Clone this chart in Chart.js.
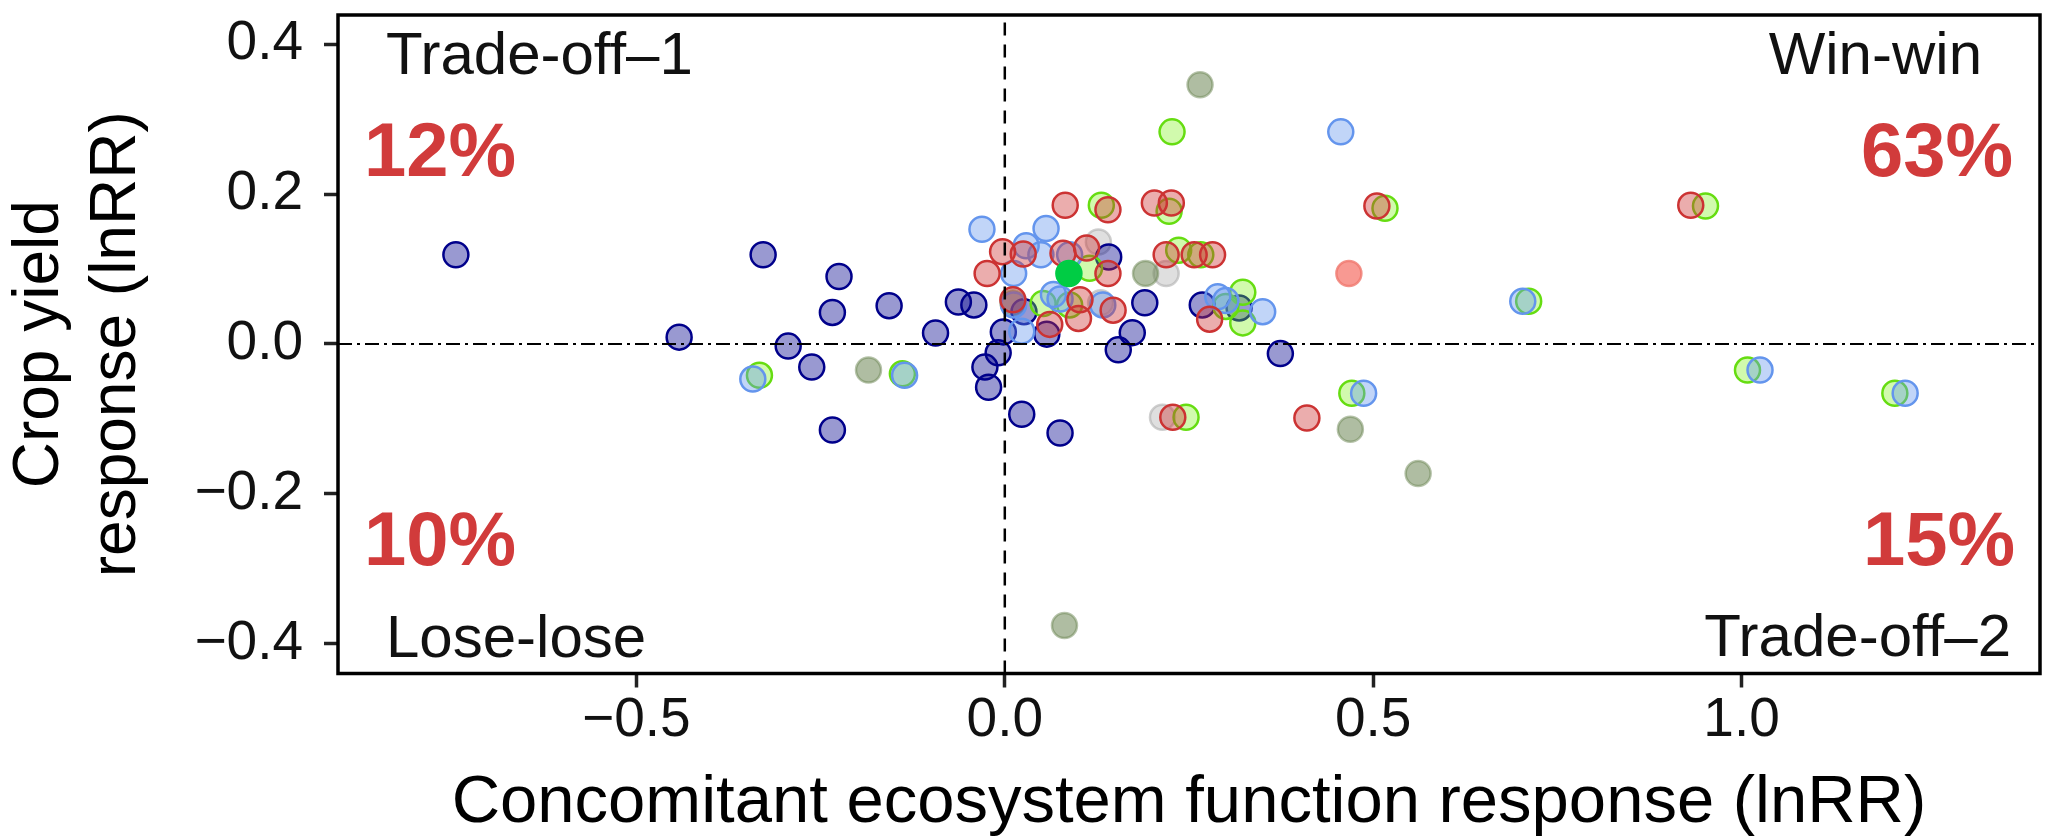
<!DOCTYPE html>
<html>
<head>
<meta charset="utf-8">
<script src="https://cdn.jsdelivr.net/npm/chart.js@4/dist/chart.umd.min.js"></script>
<style>
  body { margin: 0; background: #fff; }
  canvas { display: block; }
</style>
</head>
<body>
<canvas id="chart" width="2055" height="838"></canvas>
<script>
// axis ticks
const xTicks = [-0.5, 0, 0.5, 1.0];
const xTickLabels = ['\u22120.5', '0.0', '0.5', '1.0'];
const yTicks = [-0.4, -0.2, 0, 0.2, 0.4];
const yTickLabels = ['\u22120.4', '\u22120.2', '0.0', '0.2', '0.4'];

// points, one pair of arrays per colour group
const navyX = [-0.745, -0.328, -0.225, -0.442, -0.294, -0.262, -0.234, -0.234, -0.157, -0.094, -0.063, -0.042, -0.002, -0.009, -0.027, -0.022, 0.023, 0.075, 0.026, 0.057, 0.141, 0.19, 0.173, 0.154, 0.268, 0.318, 0.374];
const navyY = [0.119, 0.119, 0.090, 0.009, -0.003, -0.031, -0.115, 0.042, 0.051, 0.0145, 0.056, 0.052, 0.016, -0.012, -0.031, -0.058, -0.094, -0.119, 0.043, 0.013, 0.116, 0.055, 0.015, -0.008, 0.052, 0.048, -0.013];

const blueX = [-0.031, 0.056, 0.029, 0.049, 0.012, 0.088, 0.012, 0.023, 0.066, 0.075, 0.133, 0.289, 0.35, 0.30, 0.456, 0.703, 0.487, 1.025, 1.222, -0.342, -0.136];
const blueY = [0.153, 0.154, 0.131, 0.119, 0.094, 0.119, 0.052, 0.017, 0.066, 0.060, 0.052, 0.063, 0.043, 0.058, 0.283, 0.057, -0.066, -0.035, -0.066, -0.047, -0.042];

const redX = [0.082, 0.14, 0.203, 0.226, -0.003, -0.024, 0.079, 0.111, 0.14, 0.011, 0.102, 0.100, 0.061, 0.147, 0.219, 0.257, 0.282, 0.278, 0.228, 0.41, 0.505, 0.931, 0.025];
const redY = [0.185, 0.179, 0.188, 0.188, 0.123, 0.094, 0.121, 0.128, 0.094, 0.059, 0.059, 0.034, 0.026, 0.045, 0.119, 0.119, 0.119, 0.033, -0.098, -0.099, 0.184, 0.185, 0.120];

const greenX = [0.131, 0.223, 0.236, 0.266, 0.115, 0.052, 0.088, 0.323, 0.323, 0.30, 0.246, 0.227, 0.516, 0.951, 0.711, 0.471, 1.008, 1.208, -0.333, -0.139];
const greenY = [0.185, 0.177, 0.125, 0.119, 0.101, 0.054, 0.052, 0.069, 0.028, 0.050, -0.098, 0.283, 0.181, 0.184, 0.057, -0.066, -0.035, -0.066, -0.042, -0.040];

const oliveX = [0.265, 0.191, 0.469, 0.561, 0.081, -0.185, 0.011];
const oliveY = [0.346, 0.094, -0.114, -0.173, -0.376, -0.035, 0.055];

const greyX = [0.127, 0.219, 0.214, 0.13];
const greyY = [0.136, 0.094, -0.098, 0.055];

const brightX = [0.087];
const brightY = [0.094];

const salmonX = [0.467];
const salmonY = [0.094];

// reference lines at zero
const vLineX = [0, 0];
const vLineY = [-0.44, 0.439];
const hLineX = [-0.905, 1.405];
const hLineY = [0, 0];

// quadrant labels
const quadText = ['Trade-off\u20131', 'Win-win', 'Lose-lose', 'Trade-off\u20132'];
const quadPct = ['12%', '63%', '10%', '15%'];

function pts(xs, ys) {
  return xs.map((x, i) => ({ x: x, y: ys[i] }));
}

function scatterSet(xs, ys, fill, border, order) {
  return {
    type: 'scatter',
    data: pts(xs, ys),
    backgroundColor: fill,
    borderColor: border,
    borderWidth: 2.5,
    pointRadius: 12.5,
    pointHoverRadius: 12.5,
    order: order
  };
}

const FONT = "'Liberation Sans', Arial, sans-serif";

// box round the plot and the quadrant texts
const boxPlugin = {
  id: 'boxAndText',
  afterDatasetsDraw(chart) {
    const ctx = chart.ctx;
    const a = chart.chartArea;
    ctx.save();
    ctx.strokeStyle = '#000';
    ctx.lineWidth = 3.5;
    ctx.strokeRect(a.left, a.top, a.right - a.left, a.bottom - a.top);

    ctx.fillStyle = '#111';
    ctx.font = '60px ' + FONT;
    ctx.textBaseline = 'alphabetic';
    ctx.textAlign = 'left';
    ctx.fillText(quadText[0], a.left + 48, a.top + 59);
    ctx.fillText(quadText[2], a.left + 48, a.bottom - 17);
    ctx.textAlign = 'right';
    ctx.fillText(quadText[1], a.right - 58, a.top + 59);
    ctx.fillText(quadText[3], a.right - 29, a.bottom - 18);

    ctx.fillStyle = '#d13b3b';
    ctx.font = 'bold 76px ' + FONT;
    ctx.textAlign = 'left';
    ctx.fillText(quadPct[0], a.left + 26, a.top + 161);
    ctx.fillText(quadPct[2], a.left + 26, a.bottom - 109);
    ctx.textAlign = 'right';
    ctx.fillText(quadPct[1], a.right - 27, a.top + 161);
    ctx.fillText(quadPct[3], a.right - 25, a.bottom - 109);
    ctx.restore();
  }
};

const ctx = document.getElementById('chart').getContext('2d');
const chart = new Chart(ctx, {
  type: 'scatter',
  data: {
    datasets: [
      {
        type: 'line',
        data: pts(vLineX, vLineY),
        borderColor: '#000',
        borderWidth: 2.5,
        borderDash: [13, 9],
        pointRadius: 0,
        fill: false,
        order: 0
      },
      {
        type: 'line',
        data: pts(hLineX, hLineY),
        borderColor: '#000',
        borderWidth: 2,
        borderDash: [14, 5, 3, 5],
        pointRadius: 0,
        fill: false,
        order: 0
      },
      scatterSet(brightX, brightY, '#00cc44', '#00cc44', 1),
      scatterSet(salmonX, salmonY, 'rgba(245,110,100,0.7)', 'rgba(240,120,110,0.8)', 2),
      scatterSet(redX, redY, 'rgba(205,51,51,0.4)', '#cc3333', 3),
      scatterSet(blueX, blueY, 'rgba(100,149,237,0.4)', '#6495ed', 4),
      scatterSet(greenX, greenY, 'rgba(124,240,20,0.35)', '#66dd11', 5),
      scatterSet(navyX, navyY, 'rgba(0,0,139,0.4)', '#00008b', 6),
      scatterSet(oliveX, oliveY, 'rgba(110,135,85,0.55)', 'rgba(110,135,85,0.5)', 7),
      scatterSet(greyX, greyY, 'rgba(185,185,185,0.45)', 'rgba(175,175,175,0.6)', 8)
    ]
  },
  options: {
    responsive: false,
    devicePixelRatio: 1,
    animation: false,
    layout: { padding: { top: 13, right: 7, left: 0, bottom: 0 } },
    plugins: {
      legend: { display: false },
      tooltip: { enabled: false }
    },
    scales: {
      x: {
        type: 'linear',
        min: -0.905,
        max: 1.405,
        afterBuildTicks: (scale) => { scale.ticks = xTicks.map(v => ({ value: v })); },
        afterFit: (scale) => {
          scale.height = 164.5;
          scale.paddingLeft = 0;
          scale.paddingRight = 0;
        },
        ticks: {
          callback: (v, i) => xTickLabels[i],
          font: { family: FONT, size: 55 },
          color: '#111',
          padding: 0,
          maxRotation: 0
        },
        grid: {
          drawOnChartArea: false,
          drawTicks: true,
          tickLength: 14,
          tickWidth: 3.5,
          tickColor: '#222'
        },
        border: { display: false },
        title: {
          display: true,
          text: 'Concomitant ecosystem function response (lnRR)',
          font: { family: FONT, size: 67 },
          color: '#000',
          padding: { top: 0, bottom: -6 }
        }
      },
      y: {
        type: 'linear',
        min: -0.44,
        max: 0.439,
        afterBuildTicks: (scale) => { scale.ticks = yTicks.map(v => ({ value: v })); },
        afterFit: (scale) => {
          scale.width = 338;
          scale.paddingTop = 0;
          scale.paddingBottom = 0;
        },
        ticks: {
          callback: (v, i) => yTickLabels[i],
          font: { family: FONT, size: 55 },
          color: '#111',
          padding: 21
        },
        grid: {
          drawOnChartArea: false,
          drawTicks: true,
          tickLength: 14,
          tickWidth: 3.5,
          tickColor: '#222'
        },
        border: { display: false },
        title: {
          display: true,
          text: ['Crop yield', 'response (lnRR)'],
          font: { family: FONT, size: 64 },
          color: '#000',
          padding: { top: 2, bottom: 0 }
        }
      }
    }
  },
  plugins: [boxPlugin]
});
</script>
</body>
</html>
